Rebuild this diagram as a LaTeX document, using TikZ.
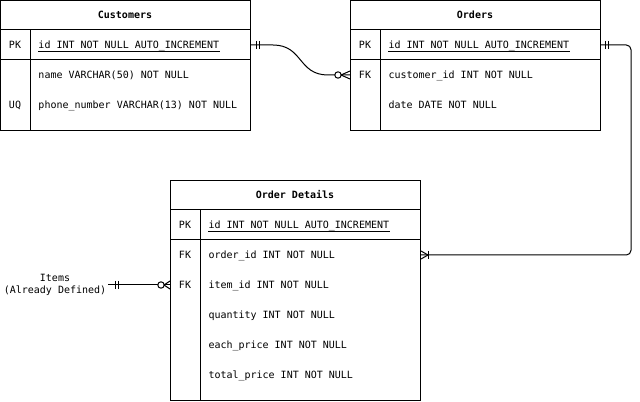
\documentclass[tikz,border=0pt]{standalone}
\usepackage{fontspec}
\newfontfamily\erfont{DejaVu Sans Mono}
\usetikzlibrary{calc}
\begin{document}
\begin{tikzpicture}[x=0.75pt,y=-0.75pt,line width=0.75pt,
  txt/.style={font=\erfont\fontsize{7.5}{9}\selectfont,inner sep=0pt},
  ttl/.style={font=\erfont\bfseries\fontsize{7.5}{9}\selectfont,inner sep=0pt},
  tbl/.style={draw,minimum width=187.5pt,anchor=north west,inner sep=0pt},
  fld/.style={txt,anchor=base west},
  key/.style={txt,anchor=base},
  conn/.style={draw,line width=0.75pt},
  tick/.style={draw,line width=0.75pt},
  uline/.style={draw,line width=0.75pt}
]
\useasboundingbox (0,0) rectangle (640,402);

% ---------- Customers ----------
\node[tbl,minimum height=97.5pt] (cust) at (0,0) {};
\draw (0,30) -- (250,30);
\draw (0,60) -- (250,60);
\draw (30,30) -- (30,130);
\node[ttl] (cT) at (125,15) {Customers};
\node[key] (cPKk) at (15,48.5) {PK};
\node[fld] (cPK) at (38,48.5) {id INT NOT NULL AUTO\_INCREMENT};
\draw[uline] ($(cPK.base west)+(0,3)$) -- ($(cPK.base east)+(0,3)$);
\node[fld] (cName) at (38,78.5) {name VARCHAR(50) NOT NULL};
\node[key] (cUQk) at (15,108.5) {UQ};
\node[fld] (cPhone) at (38,108.5) {phone\_number VARCHAR(13) NOT NULL};

% ---------- Orders ----------
\node[tbl,minimum height=97.5pt] (ord) at (350,0) {};
\draw (350,30) -- (600,30);
\draw (350,60) -- (600,60);
\draw (380,30) -- (380,130);
\node[ttl] (oT) at (475,15) {Orders};
\node[key] (oPKk) at (365,48.5) {PK};
\node[fld] (oPK) at (388,48.5) {id INT NOT NULL AUTO\_INCREMENT};
\draw[uline] ($(oPK.base west)+(0,3)$) -- ($(oPK.base east)+(0,3)$);
\node[key] (oFKk) at (365,78.5) {FK};
\node[fld] (oFK) at (388,78.5) {customer\_id INT NOT NULL};
\node[fld] (oDate) at (388,108.5) {date DATE NOT NULL};

% ---------- Order Details ----------
\node[tbl,minimum height=165pt] (det) at (170,180) {};
\draw (170,210) -- (420,210);
\draw (170,240) -- (420,240);
\draw (200,210) -- (200,400);
\node[ttl] (dT) at (295,195) {Order Details};
\node[key] (dPKk) at (185,228.5) {PK};
\node[fld] (dPK) at (208,228.5) {id INT NOT NULL AUTO\_INCREMENT};
\draw[uline] ($(dPK.base west)+(0,3)$) -- ($(dPK.base east)+(0,3)$);
\node[key] (dOIDk) at (185,258.5) {FK};
\node[fld] (dOID) at (208,258.5) {order\_id INT NOT NULL};
\node[key] (dIIDk) at (185,288.5) {FK};
\node[fld] (dIID) at (208,288.5) {item\_id INT NOT NULL};
\node[fld] (dQty) at (208,318.5) {quantity INT NOT NULL};
\node[fld] (dEach) at (208,348.5) {each\_price INT NOT NULL};
\node[fld] (dTotal) at (208,378.5) {total\_price INT NOT NULL};

% ---------- Items label ----------
\node[txt,align=center,inner sep=1pt] (items) at (55,285) {Items\\(Already Defined)};

% ---------- anchors on table edges ----------
\coordinate (c1a) at (cust.east |- 0,45);
\coordinate (c1b) at (ord.west |- 0,75);
\coordinate (c2a) at (ord.east |- 0,45);
\coordinate (c2b) at (det.east |- 0,255);
\coordinate (c3b) at (det.west |- 0,285);

% ---------- Connector: Customers -> Orders ----------
\draw[conn] (c1a) -- ++(22,0) .. controls +(30,0) and +(-30,0) .. ($(c1b)+(-22,0)$) -- (c1b);
\draw[tick] ($(c1a)+(5,-4)$) -- ++(0,8);
\draw[tick] ($(c1a)+(8,-4)$) -- ++(0,8);
\draw[tick,fill=white] ($(c1b)+(-12,0)$) circle[radius=2.4pt];
\draw[tick] ($(c1b)+(-9,0)$) -- ($(c1b)+(0,-4)$);
\draw[tick] ($(c1b)+(-9,0)$) -- ($(c1b)+(0,4)$);

% ---------- Connector: Orders -> Order Details ----------
\draw[conn,rounded corners=3.5pt] (c2a) -- ++(30,0) |- (c2b);
\draw[tick] ($(c2a)+(4,-4)$) -- ++(0,8);
\draw[tick] ($(c2a)+(7,-4)$) -- ++(0,8);
\draw[tick] ($(c2b)+(7,0)$) -- ($(c2b)+(0,-4)$);
\draw[tick] ($(c2b)+(7,0)$) -- ($(c2b)+(0,4)$);
\draw[tick] ($(c2b)+(7,-4)$) -- ++(0,8);

% ---------- Connector: Items -> Order Details ----------
\draw[conn] (items.east) -- (c3b);
\draw[tick] ($(items.east)+(7.5,-4)$) -- ++(0,8);
\draw[tick] ($(items.east)+(10.5,-4)$) -- ++(0,8);
\draw[tick,fill=white] ($(c3b)+(-9,0)$) circle[radius=2.4pt];
\draw[tick] ($(c3b)+(-6,0)$) -- ($(c3b)+(0,-4)$);
\draw[tick] ($(c3b)+(-6,0)$) -- ($(c3b)+(0,4)$);
\end{tikzpicture}
\end{document}
